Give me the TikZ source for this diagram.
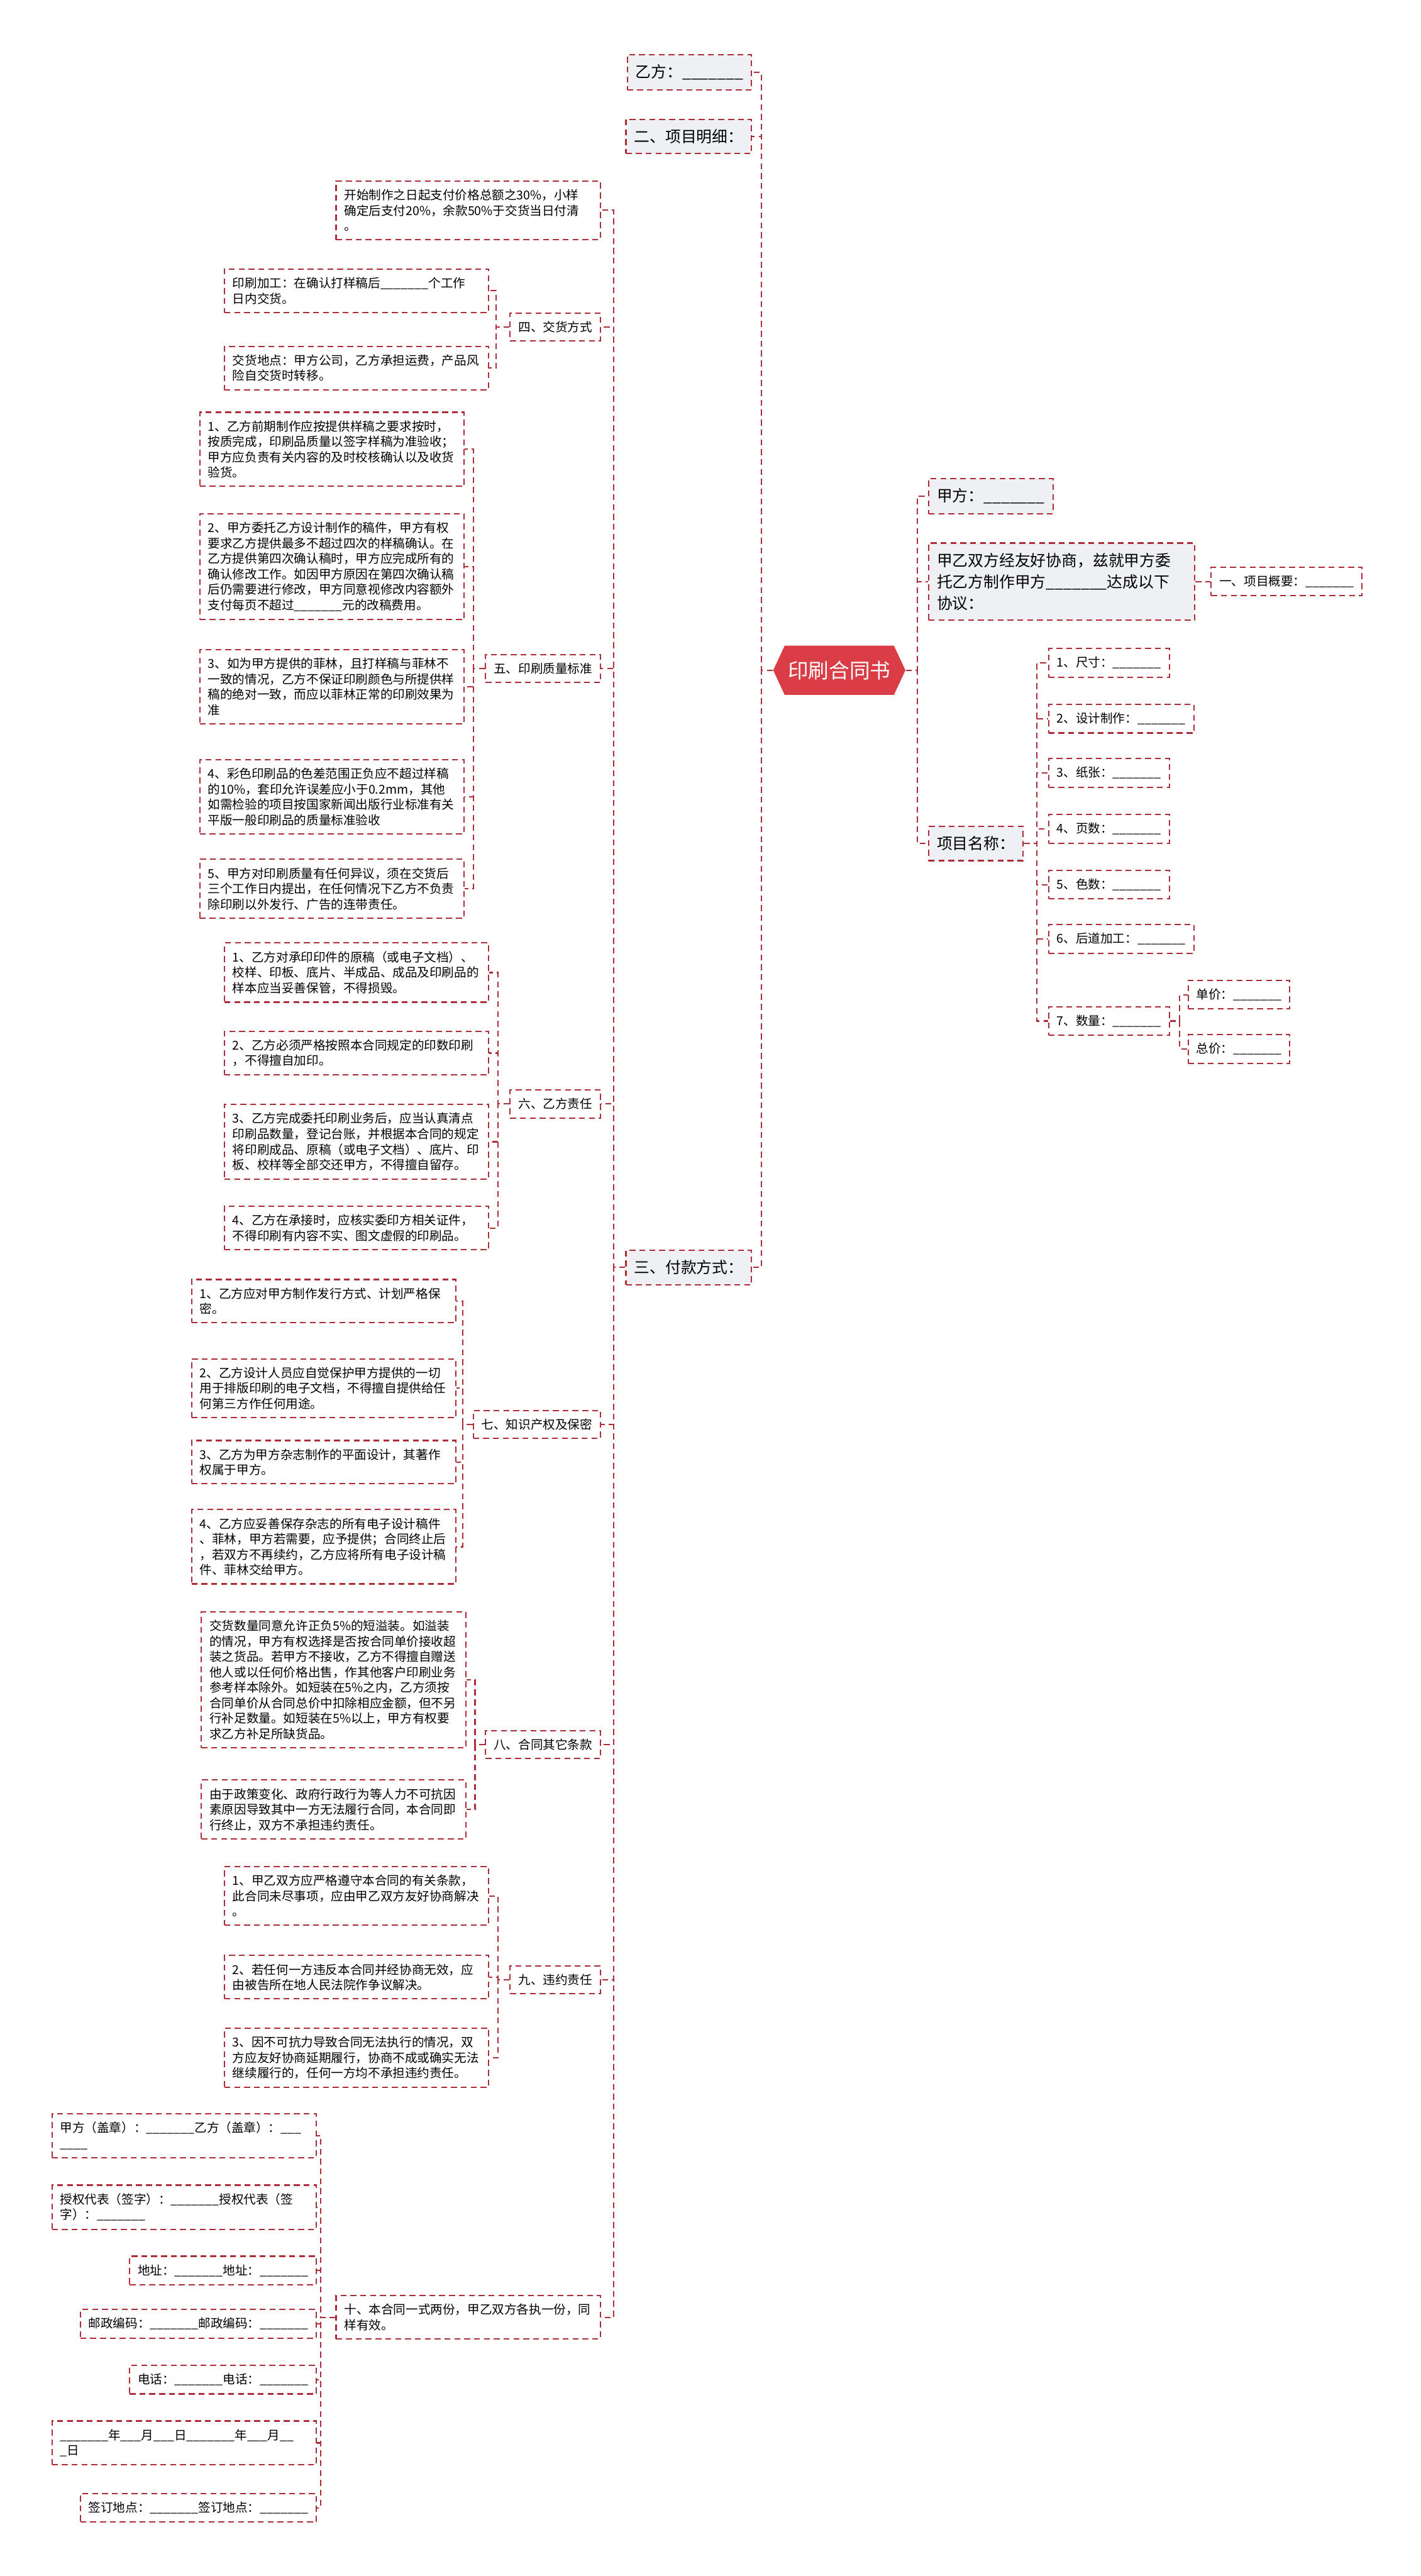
\documentclass[tikz,border=0pt]{standalone}
\usepackage{fontspec}
\setmainfont{Noto Sans CJK SC}
\usetikzlibrary{shapes.symbols}

\definecolor{linered}{HTML}{AE2C38}
\definecolor{rootred}{HTML}{DB3D46}
\definecolor{topicgray}{HTML}{EEF0F4}
\newcommand{\blank}{\_\_\_\_\_\_\_}

\begin{document}
\begin{tikzpicture}[
    x=1pt,
    y=-1pt,
    link/.style={
        draw=linered,
        line width=0.8pt,
        dash pattern=on 3.6pt off 2.4pt
    },
    root/.style={
        signal,
        signal to=east and west,
        signal pointer angle=130,
        fill=rootred,
        text=white,
        font=\fontsize{12.5}{15}\selectfont,
        minimum width=78pt,
        minimum height=30pt,
        inner sep=2pt
    },
    topic/.style={
        link,
        fill=topicgray,
        align=left,
        font=\fontsize{9.5}{13}\selectfont,
        inner xsep=5pt,
        inner ysep=6pt
    },
    tag/.style={
        link,
        fill=white,
        align=left,
        font=\fontsize{7.5}{9.4}\selectfont,
        inner xsep=5pt,
        inner ysep=5pt
    },
    leaf/.style={
        tag,
        text width=151pt
    }
]

% Page
\fill[white] (0,0) rectangle (865,1568);

% Root
\node[root] (root) at (511,408) {印刷合同书};

% Right branch
\node[topic, anchor=west] (jiafang) at (565,302) {甲方：\blank};
\node[topic, anchor=west, text width=152pt] (xieyi) at (565,354)
    {甲乙双方经友好协商，兹就甲方委\\托乙方制作甲方\blank 达成以下\\协议：};
\node[tag, anchor=west] (gaiyao) at (737,354) {一、项目概要：\blank};
\node[topic, anchor=west] (xiangmu) at (565,513.5) {项目名称：};

% Project items
\foreach \n/\y/\t in {
    chicun/403.5/{1、尺寸：\blank},
    sheji/437.5/{2、设计制作：\blank},
    zhizhang/470.5/{3、纸张：\blank},
    yeshu/504.5/{4、页数：\blank},
    seshu/538.5/{5、色数：\blank},
    houdao/571.5/{6、后道加工：\blank},
    shuliang/621.5/{7、数量：\blank}}
    \node[tag, anchor=west] (\n) at (638,\y) {\t};

\node[tag, anchor=west] (danjia) at (723,605.5) {单价：\blank};
\node[tag, anchor=west] (zongjia) at (723,638.5) {总价：\blank};

% Left branch
\node[topic, anchor=east] (yifang) at (458,44) {乙方：\blank};
\node[topic, anchor=east] (mingxi) at (458,83) {二、项目明细：};
\node[topic, anchor=east] (fukuan) at (458,771.5) {三、付款方式：};

% Payment terms
\node[leaf, anchor=east] (kaishi) at (366,128)
    {开始制作之日起支付价格总额之30\%，小样\\确定后支付20\%，余款50\%于交货当日付清\\。};

% Four: delivery
\node[tag, anchor=east] (jiaohuo) at (366,199) {四、交货方式};
\node[leaf, anchor=east] (jiagong) at (298,177)
    {印刷加工：在确认打样稿后\_\_\_\_\_\_\_个工作\\日内交货。};
\node[leaf, anchor=east] (didian) at (298,224)
    {交货地点：甲方公司，乙方承担运费，产品风\\险自交货时转移。};

% Five: quality
\node[tag, anchor=east] (zhiliang) at (366,407) {五、印刷质量标准};
\node[leaf, anchor=east] (zl1) at (283,273.5)
    {1、乙方前期制作应按提供样稿之要求按时，\\按质完成，印刷品质量以签字样稿为准验收；\\甲方应负责有关内容的及时校核确认以及收货\\验货。};
\node[leaf, anchor=east] (zl2) at (283,345)
    {2、甲方委托乙方设计制作的稿件，甲方有权\\要求乙方提供最多不超过四次的样稿确认。在\\乙方提供第四次确认稿时，甲方应完成所有的\\确认修改工作。如因甲方原因在第四次确认稿\\后仍需要进行修改，甲方同意视修改内容额外\\支付每页不超过\_\_\_\_\_\_\_元的改稿费用。};
\node[leaf, anchor=east] (zl3) at (283,418)
    {3、如为甲方提供的菲林，且打样稿与菲林不\\一致的情况，乙方不保证印刷颜色与所提供样\\稿的绝对一致，而应以菲林正常的印刷效果为\\准};
\node[leaf, anchor=east] (zl4) at (283,485)
    {4、彩色印刷品的色差范围正负应不超过样稿\\的10\%，套印允许误差应小于0.2mm，其他\\如需检验的项目按国家新闻出版行业标准有关\\平版一般印刷品的质量标准验收};
\node[leaf, anchor=east] (zl5) at (283,541)
    {5、甲方对印刷质量有任何异议，须在交货后\\三个工作日内提出，在任何情况下乙方不负责\\除印刷以外发行、广告的连带责任。};

% Six: duties
\node[tag, anchor=east] (zeren) at (366,672) {六、乙方责任};
\node[leaf, anchor=east] (zr1) at (298,592)
    {1、乙方对承印印件的原稿（或电子文档）、\\校样、印板、底片、半成品、成品及印刷品的\\样本应当妥善保管，不得损毁。};
\node[leaf, anchor=east] (zr2) at (298,641)
    {2、乙方必须严格按照本合同规定的印数印刷\\，不得擅自加印。};
\node[leaf, anchor=east] (zr3) at (298,695)
    {3、乙方完成委托印刷业务后，应当认真清点\\印刷品数量，登记台账，并根据本合同的规定\\将印刷成品、原稿（或电子文档）、底片、印\\板、校样等全部交还甲方，不得擅自留存。};
\node[leaf, anchor=east] (zr4) at (298,747.5)
    {4、乙方在承接时，应核实委印方相关证件，\\不得印刷有内容不实、图文虚假的印刷品。};

% Seven: copyright
\node[tag, anchor=east] (zhishi) at (366,867) {七、知识产权及保密};
\node[leaf, anchor=east] (zs1) at (278,792)
    {1、乙方应对甲方制作发行方式、计划严格保\\密。};
\node[leaf, anchor=east] (zs2) at (278,845)
    {2、乙方设计人员应自觉保护甲方提供的一切\\用于排版印刷的电子文档，不得擅自提供给任\\何第三方作任何用途。};
\node[leaf, anchor=east] (zs3) at (278,890)
    {3、乙方为甲方杂志制作的平面设计，其著作\\权属于甲方。};
\node[leaf, anchor=east] (zs4) at (278,941.5)
    {4、乙方应妥善保存杂志的所有电子设计稿件\\、菲林，甲方若需要，应予提供；合同终止后\\，若双方不再续约，乙方应将所有电子设计稿\\件、菲林交给甲方。};

% Eight: other terms
\node[tag, anchor=east] (qita) at (366,1062) {八、合同其它条款};
\node[leaf, anchor=east] (qt1) at (284,1022.5)
    {交货数量同意允许正负5\%的短溢装。如溢装\\的情况，甲方有权选择是否按合同单价接收超\\装之货品。若甲方不接收，乙方不得擅自赠送\\他人或以任何价格出售，作其他客户印刷业务\\参考样本除外。如短装在5\%之内，乙方须按\\合同单价从合同总价中扣除相应金额，但不另\\行补足数量。如短装在5\%以上，甲方有权要\\求乙方补足所缺货品。};
\node[leaf, anchor=east] (qt2) at (284,1101.5)
    {由于政策变化、政府行政行为等人力不可抗因\\素原因导致其中一方无法履行合同，本合同即\\行终止，双方不承担违约责任。};

% Nine: breach
\node[tag, anchor=east] (weiyue) at (366,1205) {九、违约责任};
\node[leaf, anchor=east] (wy1) at (298,1154)
    {1、甲乙双方应严格遵守本合同的有关条款，\\此合同未尽事项，应由甲乙双方友好协商解决\\。};
\node[leaf, anchor=east] (wy2) at (298,1203.5)
    {2、若任何一方违反本合同并经协商无效，应\\由被告所在地人民法院作争议解决。};
\node[leaf, anchor=east] (wy3) at (298,1252.5)
    {3、因不可抗力导致合同无法执行的情况，双\\方应友好协商延期履行，协商不成或确实无法\\继续履行的，任何一方均不承担违约责任。};

% Ten: copies and signatures
\node[leaf, anchor=east] (shi) at (366,1410.5)
    {十、本合同一式两份，甲乙双方各执一份，同\\样有效。};
\node[leaf, anchor=east] (qm1) at (193,1300)
    {甲方（盖章）：\_\_\_\_\_\_\_乙方（盖章）：\_\_\_\\\_\_\_\_};
\node[leaf, anchor=east] (qm2) at (193,1343.5)
    {授权代表（签字）：\_\_\_\_\_\_\_授权代表（签\\字）：\_\_\_\_\_\_\_};
\node[tag, anchor=east] (qm3) at (193,1382) {地址：\blank 地址：\blank};
\node[tag, anchor=east] (qm4) at (193,1414.5) {邮政编码：\blank 邮政编码：\blank};
\node[tag, anchor=east] (qm5) at (193,1448.5) {电话：\blank 电话：\blank};
\node[leaf, anchor=east] (qm6) at (193,1487)
    {\_\_\_\_\_\_\_年\_\_\_月\_\_\_日\_\_\_\_\_\_\_年\_\_\_月\_\_\\\_日};
\node[tag, anchor=east] (qm7) at (193,1526.5) {签订地点：\blank 签订地点：\blank};

% Connectors
\foreach \c in {yifang,mingxi,fukuan}
    \draw[link] (root.west) -- ++(-7,0) |- (\c.east);
\foreach \c in {jiafang,xieyi,xiangmu}
    \draw[link] (root.east) -- ++(7,0) |- (\c.west);
\draw[link] (xieyi.east) -- (gaiyao.west);
\foreach \c in {chicun,sheji,zhizhang,yeshu,seshu,houdao,shuliang}
    \draw[link] (xiangmu.east) -- ++(8,0) |- (\c.west);
\foreach \c in {danjia,zongjia}
    \draw[link] (shuliang.east) -- ++(6,0) |- (\c.west);

\foreach \c in {kaishi,jiaohuo,zhiliang,zeren,zhishi,qita,weiyue,shi}
    \draw[link] (fukuan.west) -- ++(-7,0) |- (\c.east);
\foreach \c in {jiagong,didian}
    \draw[link] (jiaohuo.west) -- ++(-8,0) |- (\c.east);
\foreach \c in {zl1,zl2,zl3,zl4,zl5}
    \draw[link] (zhiliang.west) -- ++(-7,0) |- (\c.east);
\foreach \c in {zr1,zr2,zr3,zr4}
    \draw[link] (zeren.west) -- ++(-7,0) |- (\c.east);
\foreach \c in {zs1,zs2,zs3,zs4}
    \draw[link] (zhishi.west) -- ++(-6,0) |- (\c.east);
\foreach \c in {qt1,qt2}
    \draw[link] (qita.west) -- ++(-6,0) |- (\c.east);
\foreach \c in {wy1,wy2,wy3}
    \draw[link] (weiyue.west) -- ++(-7,0) |- (\c.east);
\foreach \c in {qm1,qm2,qm3,qm4,qm5,qm6,qm7}
    \draw[link] (shi.west) -- ++(-9,0) |- (\c.east);

\end{tikzpicture}
\end{document}
